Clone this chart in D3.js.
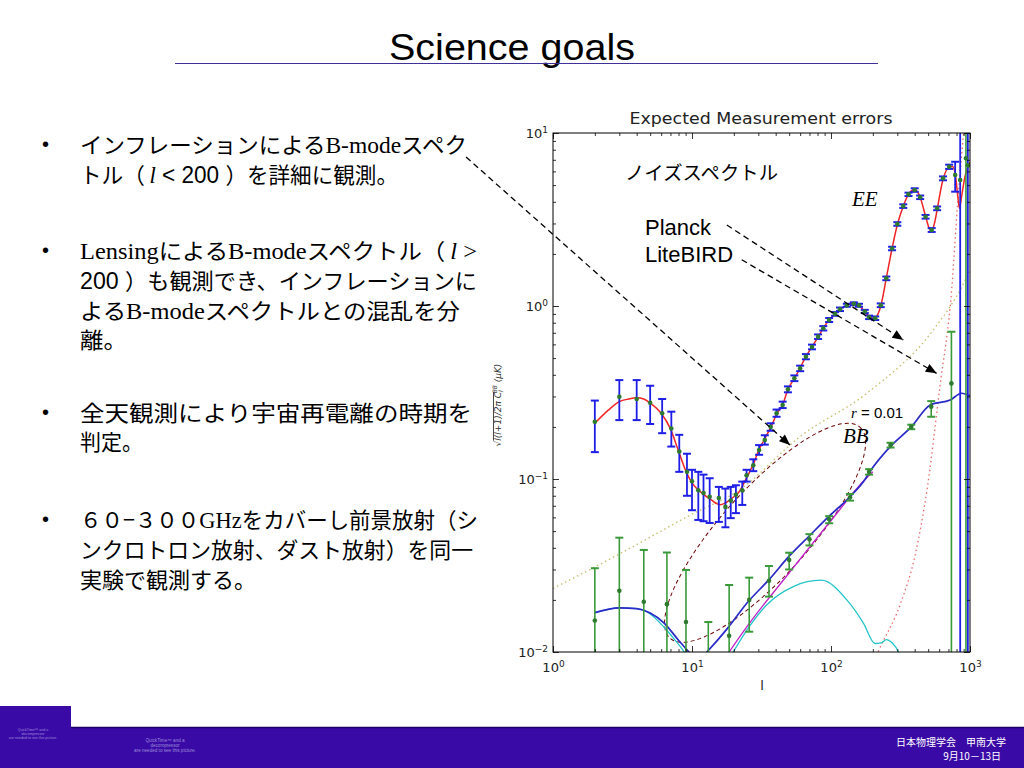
<!DOCTYPE html>
<meta charset="utf-8">
<style>
    body{ margin:0; background:#fff; }
    svg{ display:block; }
    .jp{ font-family:"Noto Sans CJK JP", sans-serif; }
    .tick text{ font-family:"DejaVu Sans", sans-serif; font-size:13px; fill:#222; }
    .tick line{ stroke:#000; stroke-width:0.8; }
</style>
<body>
<svg id="slide" width="1024" height="768"></svg>
<script src="https://d3js.org/d3.v7.min.js"></script>
<script>
// EE: measured points (multipole l, value, error bar low / high)
var eeL  = [2, 3, 4, 5, 6.1, 7.1, 8.1, 9.2, 10, 11.1, 12.1, 13.4, 15.6, 17.4, 19, 20.7, 23, 24.7, 27.6, 30.4, 33.4, 36.8, 40.6, 44.9, 49, 54.5, 60, 66, 73, 80.7, 88, 97, 107, 116, 130, 146, 159, 175, 188, 208, 228, 250, 275, 300, 331, 361, 400, 438, 479, 530, 580, 640, 708, 782, 850, 965];
var eeV  = [0.214, 0.299, 0.29, 0.276, 0.24, 0.196, 0.144, 0.11, 0.097, 0.086, 0.083, 0.079, 0.0776, 0.069, 0.075, 0.081, 0.086, 0.105, 0.12, 0.147, 0.168, 0.2, 0.24, 0.268, 0.33, 0.382, 0.436, 0.509, 0.58, 0.665, 0.743, 0.83, 0.9, 0.957, 1.01, 1.03, 1.01, 0.93, 0.86, 0.85, 1.01, 1.445, 2.15, 2.98, 3.78, 4.42, 4.68, 4.25, 3.28, 2.75, 3.67, 5.47, 6.38, 5.72, 5.35, 6.5];
var eeLo = [0.143, 0.219, 0.219, 0.208, 0.184, 0.154, 0.11, 0.08, 0.066, 0.058, 0.057, 0.0557, 0.0565, 0.0526, 0.0594, 0.0635, 0.0708, 0.0966, 0.111, 0.138, 0.158, 0.19, 0.229, 0.257, 0.317, 0.368, 0.42, 0.492, 0.562, 0.645, 0.722, 0.808, 0.878, 0.935, 0.99, 1.01, 0.99, 0.91, 0.84, 0.83, 0.985, 1.41, 2.1, 2.91, 3.69, 4.32, 4.57, 4.15, 3.2, 2.68, 3.58, 5.33, 6.2, 4.58, 0.001, 0.001];
var eeHi = [0.284, 0.373, 0.373, 0.346, 0.29, 0.245, 0.18, 0.14, 0.113, 0.110, 0.106, 0.101, 0.090, 0.088, 0.090, 0.092, 0.0966, 0.113, 0.130, 0.157, 0.179, 0.21, 0.252, 0.28, 0.343, 0.397, 0.452, 0.527, 0.598, 0.685, 0.765, 0.852, 0.922, 0.98, 1.03, 1.05, 1.03, 0.95, 0.88, 0.87, 1.035, 1.48, 2.2, 3.05, 3.87, 4.52, 4.79, 4.35, 3.36, 2.82, 3.76, 5.61, 6.56, 6.82, 100, 100];

// EE theory curve
var eeThL = [2, 2.5, 3, 3.5, 4, 4.5, 5, 6, 7, 8, 9, 10, 11, 12, 13, 14, 15, 16, 17, 18, 20, 22, 24, 26, 28, 30, 33, 37, 41, 45, 49, 55, 60, 66, 73, 81, 88, 97, 107, 116, 128, 140, 150, 160, 175, 188, 200, 210, 228, 250, 275, 300, 330, 360, 390, 410, 438, 479, 510, 530, 560, 580, 640, 708, 750, 790, 820, 840, 870, 920, 1000];
var eeThV = [0.21, 0.25, 0.28, 0.29, 0.295, 0.29, 0.275, 0.24, 0.195, 0.145, 0.112, 0.095, 0.087, 0.082, 0.078, 0.075, 0.072, 0.071, 0.072, 0.074, 0.079, 0.085, 0.097, 0.11, 0.125, 0.145, 0.168, 0.2, 0.24, 0.27, 0.33, 0.385, 0.44, 0.51, 0.58, 0.665, 0.745, 0.83, 0.9, 0.96, 1.0, 1.03, 1.03, 1.0, 0.93, 0.87, 0.85, 0.86, 1.0, 1.45, 2.15, 2.95, 3.75, 4.4, 4.68, 4.65, 4.25, 3.3, 2.8, 2.72, 3.1, 3.6, 5.4, 6.35, 6.4, 5.5, 4.2, 3.67, 4.3, 5.6, 6.8];

// BB: measured points
var bbL  = [2, 3, 4.5, 6.6, 9.05, 13.1, 18.5, 25.8, 35.8, 50, 70, 97, 137, 188, 268, 378, 526, 735, 935];
var bbV  = [0.0152, 0.0226, 0.0195, 0.0189, 0.0149, 0.0085, 0.0124, 0.020, 0.0258, 0.034, 0.0448, 0.0585, 0.0784, 0.110, 0.157, 0.200, 0.262, 0.357, 7.14];
var bbLo = [0.001, 0.001, 0.001, 0.001, 0.001, 0.001, 0.001, 0.0131, 0.0209, 0.030, 0.0413, 0.0555, 0.075, 0.106, 0.152, 0.194, 0.229, 0.001, 0.001];
var bbHi = [0.0305, 0.0458, 0.0389, 0.0376, 0.0298, 0.0149, 0.0244, 0.0269, 0.0314, 0.0375, 0.048, 0.061, 0.082, 0.114, 0.162, 0.206, 0.282, 0.71, 100];

// BB total (r = 0.01 + lensing)
var bbTotL = [2, 3, 4, 5, 6.3, 8, 9.5, 11, 12.8, 18, 25.3, 35.8, 50, 70, 97, 137, 175, 190, 267, 378, 518, 720, 870, 1000];
var bbTotV = [0.0169, 0.018, 0.0178, 0.0168, 0.0147, 0.0117, 0.010, 0.0088, 0.010, 0.0137, 0.0195, 0.0262, 0.0358, 0.047, 0.061, 0.079, 0.099, 0.11, 0.154, 0.2, 0.268, 0.286, 0.313, 0.302];
// lensing BB
var lensL = [15, 18.5, 25.3, 50.6, 98.5, 175, 200];
var lensV = [0.0078, 0.01, 0.0143, 0.029, 0.0566, 0.099, 0.11];
// primordial BB
var primL = [2, 3, 4, 5, 6.3, 7.5, 8.8, 10, 12, 15, 19.8, 25, 34.4, 53.5, 85, 130, 171, 207, 230, 250, 275, 305, 330];
var primV = [0.0169, 0.018, 0.0178, 0.0166, 0.0139, 0.0118, 0.0100, 0.0085, 0.005, 0.007, 0.01, 0.0135, 0.0187, 0.0239, 0.026, 0.020, 0.0147, 0.0112, 0.0113, 0.0118, 0.0113, 0.010, 0.008];
// noise spectra
var noiseLbL = [1, 2, 4.5, 9.2, 22, 60, 181, 545, 850, 1000];
var noiseLbV = [0.0233, 0.031, 0.044, 0.0605, 0.0866, 0.176, 0.313, 0.727, 1.24, 1.6];
var noisePlL = [200, 218, 316, 402, 493, 607, 738, 818, 890, 970];
var noisePlV = [0.0085, 0.01, 0.019, 0.036, 0.089, 0.34, 1.24, 4.1, 9.1, 20];

// annotations (data coordinates)
var ellipseL = [6.95, 162];
var ellipseV = [0.012, 0.199];
var arrowFromL = [0.237, 17.8, 22.8];
var arrowFromV = [7.26, 2.94, 1.85];
var arrowToL = [50.7, 331, 575];
var arrowToV = [0.157, 0.636, 0.408];

var xDomain = [1, 1000];
var yDomain = [0.01, 10];

var svg = d3.select("#slide");
var W = 1024;

// ---------- slide title ----------
svg.append("text")
    .attr("x", 512).attr("y", 60)
    .attr("text-anchor", "middle")
    .attr("font-family", "'Liberation Sans Narrow', 'Liberation Sans', Arial, sans-serif")
    .attr("font-size", 37)
    .attr("textLength", 246).attr("lengthAdjust", "spacingAndGlyphs")
    .text("Science goals");
svg.append("line")
    .attr("x1", 175).attr("x2", 878).attr("y1", 63.5).attr("y2", 63.5)
    .attr("stroke", "#40309a").attr("stroke-width", 1.2);

// ---------- bullets ----------
var fonts = {
    j: "'Noto Sans CJK JP', sans-serif",
    s: "'Liberation Serif', 'Times New Roman', serif",
    i: "'Liberation Serif', 'Times New Roman', serif",
    a: "'Liberation Sans', Arial, sans-serif"
};
var textLines = [
    {y: 153, w: 387, b: true,  segs: [["インフレーションによる","j"],["B-mode","s"],["スペク","j"]]},
    {y: 183, w: 318, b: false, segs: [["トル（ ","j"],["l","i"],[" < 200 ","a"],["）を詳細に観測。","j"]]},
    {y: 259, w: 397, b: true,  segs: [["Lensing","s"],["による","j"],["B-mode","s"],["スペクトル（ ","j"],["l","i"],[" >","s"]]},
    {y: 289, w: 397, b: false, segs: [["200 ","a"],["）も観測でき、インフレーションに","j"]]},
    {y: 319, w: 380, b: false, segs: [["よる","j"],["B-mode","s"],["スペクトルとの混乱を分","j"]]},
    {y: 348, w: 47,  b: false, segs: [["離。","j"]]},
    {y: 421, w: 392, b: true,  segs: [["全天観測により宇宙再電離の時期を","j"]]},
    {y: 450, w: 63,  b: false, segs: [["判定。","j"]]},
    {y: 528, w: 398, b: true,  segs: [["６０−３００","j"],["GHz","s"],["をカバーし前景放射（シ","j"]]},
    {y: 558, w: 393, b: false, segs: [["ンクロトロン放射、ダスト放射）を同一","j"]]},
    {y: 588, w: 176, b: false, segs: [["実験で観測する。","j"]]}
];
textLines.forEach(function(ln){
    if (ln.b) {
        svg.append("text").attr("x", 42).attr("y", ln.y - 2)
            .attr("font-family", fonts.a).attr("font-size", 20).text("•");
    }
    var t = svg.append("text").attr("x", 80).attr("y", ln.y)
        .attr("font-size", 22).attr("fill", "#000")
        .attr("textLength", ln.w).attr("lengthAdjust", "spacingAndGlyphs");
    ln.segs.forEach(function(s){
        t.append("tspan").attr("font-family", fonts[s[1]])
            .attr("font-style", s[1] == "i" ? "italic" : null)
            .attr("font-size", s[1] == "j" ? 22 : 23)
            .text(s[0]);
    });
});

// ---------- chart ----------
var x = d3.scaleLog().domain(xDomain).range([553, 970]);
var y = d3.scaleLog().domain(yDomain).range([652, 133]);

var defs = svg.append("defs");
defs.append("clipPath").attr("id", "plotclip").append("rect")
    .attr("x", x.range()[0]).attr("y", y.range()[1])
    .attr("width", x.range()[1] - x.range()[0])
    .attr("height", y.range()[0] - y.range()[1]);
defs.append("marker").attr("id", "arrowhead")
    .attr("viewBox", "0 0 12 10").attr("refX", 12).attr("refY", 5)
    .attr("markerWidth", 12).attr("markerHeight", 9)
    .attr("markerUnits", "userSpaceOnUse").attr("orient", "auto")
    .append("path").attr("d", "M0,0L12,5L0,10z").attr("fill", "#000");

function pairs(ls, vs){ return ls.map(function(l, i){ return [l, vs[i]]; }); }
var line = d3.line()
    .x(function(d){ return x(d[0]); })
    .y(function(d){ return y(d[1]); })
    .curve(d3.curveMonotoneX);

var plot = svg.append("g").attr("clip-path", "url(#plotclip)");

plot.append("path").attr("d", line(pairs(noiseLbL, noiseLbV)))
    .attr("fill", "none").attr("stroke", "#c8c070").attr("stroke-width", 1.4)
    .attr("stroke-dasharray", "1.5,3");
plot.append("path").attr("d", line(pairs(noisePlL, noisePlV)))
    .attr("fill", "none").attr("stroke", "#ea6a6a").attr("stroke-width", 1.3)
    .attr("stroke-dasharray", "1.5,3");

// dashed ellipse round the BB region
var e0 = [x(ellipseL[0]), y(ellipseV[0])], e1 = [x(ellipseL[1]), y(ellipseV[1])];
var ecx = (e0[0] + e1[0]) / 2, ecy = (e0[1] + e1[1]) / 2;
var erx = Math.hypot(e1[0] - e0[0], e1[1] - e0[1]) / 2;
var eang = Math.atan2(e1[1] - e0[1], e1[0] - e0[0]) * 180 / Math.PI;
plot.append("ellipse")
    .attr("cx", ecx).attr("cy", ecy).attr("rx", erx).attr("ry", 44)
    .attr("transform", "rotate(" + eang + "," + ecx + "," + ecy + ")")
    .attr("fill", "none").attr("stroke", "#6a0000").attr("stroke-width", 1)
    .attr("stroke-dasharray", "4,3");

plot.append("path").attr("d", line(pairs(primL, primV)))
    .attr("fill", "none").attr("stroke", "#22c4c8").attr("stroke-width", 1.3);
plot.append("path").attr("d", line(pairs(lensL, lensV)))
    .attr("fill", "none").attr("stroke", "#c020c8").attr("stroke-width", 1.3);
plot.append("path").attr("d", line(pairs(bbTotL, bbTotV)))
    .attr("fill", "none").attr("stroke", "#2a2ac8").attr("stroke-width", 1.7);
plot.append("path").attr("d", line(pairs(eeThL, eeThV)))
    .attr("fill", "none").attr("stroke", "#f02424").attr("stroke-width", 1.5);

function errorBars(ls, vs, lo, hi, color, width){
    var g = plot.append("g");
    ls.forEach(function(l, i){
        var cx = x(l);
        g.append("line").attr("x1", cx).attr("x2", cx)
            .attr("y1", y(lo[i])).attr("y2", y(hi[i]))
            .attr("stroke", color).attr("stroke-width", width);
        [lo[i], hi[i]].forEach(function(v){
            g.append("line").attr("x1", cx - 4).attr("x2", cx + 4)
                .attr("y1", y(v)).attr("y2", y(v))
                .attr("stroke", color).attr("stroke-width", 2);
        });
    });
    return g;
}
errorBars(bbL, bbV, bbLo, bbHi, "#3a9a3a", 1.6);
errorBars(eeL, eeV, eeLo, eeHi, "#1e1ee6", 1.8);

plot.append("g").selectAll("circle")
    .data(pairs(eeL, eeV).concat(pairs(bbL, bbV)))
    .enter().append("circle")
    .attr("cx", function(d){ return x(d[0]); })
    .attr("cy", function(d){ return y(d[1]); })
    .attr("r", 2.3).attr("fill", "#2e7a2e");

// frame
svg.append("rect")
    .attr("x", x.range()[0]).attr("y", y.range()[1])
    .attr("width", x.range()[1] - x.range()[0])
    .attr("height", y.range()[0] - y.range()[1])
    .attr("fill", "none").attr("stroke", "#000").attr("stroke-width", 1);

// ticks
function isMajor(t){ var e = Math.log10(t); return Math.abs(e - Math.round(e)) < 1e-6; }
var xMaj = x.ticks().filter(isMajor), xMin = x.ticks().filter(function(t){ return !isMajor(t); });
var yMaj = y.ticks().filter(isMajor), yMin = y.ticks().filter(function(t){ return !isMajor(t); });

function powLabel(sel){
    sel.selectAll(".tick text").each(function(d){
        var t = d3.select(this).text("");
        t.append("tspan").text("10");
        t.append("tspan").attr("dy", "-0.55em").attr("font-size", "9px")
            .text(String(Math.round(Math.log10(d))).replace("-", "−"));
    });
}
function noDomain(g){ g.select(".domain").remove(); }

var gx = svg.append("g").attr("transform", "translate(0,652)");
gx.call(d3.axisBottom(x).tickValues(xMaj).tickSize(-6).tickPadding(11)).call(noDomain).call(powLabel);
svg.append("g").attr("transform", "translate(0,652)")
    .call(d3.axisBottom(x).tickValues(xMin).tickSize(-3).tickFormat("")).call(noDomain);
svg.append("g").attr("transform", "translate(0,133)")
    .call(d3.axisTop(x).tickValues(xMaj).tickSize(-6).tickFormat("")).call(noDomain);
svg.append("g").attr("transform", "translate(0,133)")
    .call(d3.axisTop(x).tickValues(xMin).tickSize(-3).tickFormat("")).call(noDomain);

var gy = svg.append("g").attr("transform", "translate(553,0)");
gy.call(d3.axisLeft(y).tickValues(yMaj).tickSize(-6).tickPadding(5)).call(noDomain).call(powLabel);
svg.append("g").attr("transform", "translate(553,0)")
    .call(d3.axisLeft(y).tickValues(yMin).tickSize(-3).tickFormat("")).call(noDomain);
svg.append("g").attr("transform", "translate(970,0)")
    .call(d3.axisRight(y).tickValues(yMaj).tickSize(-6).tickFormat("")).call(noDomain);
svg.append("g").attr("transform", "translate(970,0)")
    .call(d3.axisRight(y).tickValues(yMin).tickSize(-3).tickFormat("")).call(noDomain);

// axis titles
svg.append("text").attr("x", 761).attr("y", 124).attr("text-anchor", "middle")
    .attr("font-family", "'DejaVu Sans', sans-serif").attr("font-size", 15).attr("fill", "#222")
    .attr("textLength", 263).attr("lengthAdjust", "spacingAndGlyphs")
    .text("Expected Measurement errors");
svg.append("text").attr("x", 762).attr("y", 690).attr("text-anchor", "middle")
    .attr("font-family", "'DejaVu Sans', sans-serif").attr("font-size", 13).attr("fill", "#222")
    .text("l");
var yl = svg.append("text").attr("transform", "translate(501,405) rotate(-90)")
    .attr("text-anchor", "middle").attr("font-family", "'DejaVu Sans', sans-serif")
    .attr("font-size", 9).attr("fill", "#333").attr("font-style", "italic");
yl.append("tspan").attr("font-style", "normal").text("√");
yl.append("tspan").attr("text-decoration", "overline").text("l(l+1)/2π C");
yl.append("tspan").attr("font-size", 6).attr("dy", 2).text("l");
yl.append("tspan").attr("font-size", 6).attr("dy", -6).attr("dx", -3).text("BB");
yl.append("tspan").attr("dy", 4).text("  (μK)");

// annotations
arrowFromL.forEach(function(l, i){
    svg.append("line")
        .attr("x1", x(l)).attr("y1", y(arrowFromV[i]))
        .attr("x2", x(arrowToL[i])).attr("y2", y(arrowToV[i]))
        .attr("stroke", "#000").attr("stroke-width", 1.3)
        .attr("stroke-dasharray", "6,4").attr("marker-end", "url(#arrowhead)");
});
svg.append("text").attr("class", "jp").attr("x", 625).attr("y", 180)
    .attr("font-size", 19).attr("textLength", 153).attr("lengthAdjust", "spacingAndGlyphs")
    .text("ノイズスペクトル");
svg.append("text").attr("x", 645).attr("y", 235)
    .attr("font-family", fonts.a).attr("font-size", 22).text("Planck");
svg.append("text").attr("x", 645).attr("y", 262)
    .attr("font-family", fonts.a).attr("font-size", 22).text("LiteBIRD");
svg.append("text").attr("x", 852).attr("y", 206)
    .attr("font-family", fonts.s).attr("font-style", "italic").attr("font-size", 21).text("EE");
var rt = svg.append("text").attr("x", 851).attr("y", 418).attr("font-size", 15);
rt.append("tspan").attr("font-family", fonts.s).attr("font-style", "italic").text("r");
rt.append("tspan").attr("font-family", fonts.a).text(" = 0.01");
svg.append("text").attr("x", 843).attr("y", 443)
    .attr("font-family", fonts.s).attr("font-style", "italic").attr("font-size", 21).text("BB");

// ---------- footer ----------
var barColor = "#3a0aa6";
svg.append("rect").attr("x", 0).attr("y", 706).attr("width", 71).attr("height", 62).attr("fill", barColor);
svg.append("rect").attr("x", 0).attr("y", 727).attr("width", W).attr("height", 41).attr("fill", barColor);
svg.append("line").attr("x1", 71).attr("x2", W).attr("y1", 727.5).attr("y2", 727.5)
    .attr("stroke", "#1c0066").attr("stroke-width", 1.5);
[["QuickTime™ and a", 731], ["decompressor", 735], ["are needed to see this picture.", 739]].forEach(function(s){
    svg.append("text").attr("x", 33).attr("y", s[1]).attr("text-anchor", "middle")
        .attr("font-family", fonts.a).attr("font-size", 3.6).attr("fill", "#9a8ad6").text(s[0]);
});
[["QuickTime™ and a", 742], ["decompressor", 747], ["are needed to see this picture.", 752]].forEach(function(s){
    svg.append("text").attr("x", 165).attr("y", s[1]).attr("text-anchor", "middle")
        .attr("font-family", fonts.a).attr("font-size", 4.6).attr("fill", "#9a8ad6").text(s[0]);
});
svg.append("text").attr("class", "jp").attr("x", 1006).attr("y", 746).attr("text-anchor", "end")
    .attr("font-size", 10).attr("fill", "#fff").text("日本物理学会　甲南大学");
svg.append("text").attr("class", "jp").attr("x", 1001).attr("y", 760).attr("text-anchor", "end")
    .attr("font-size", 10).attr("fill", "#fff").text("9月10－13日");
</script>
</body>
